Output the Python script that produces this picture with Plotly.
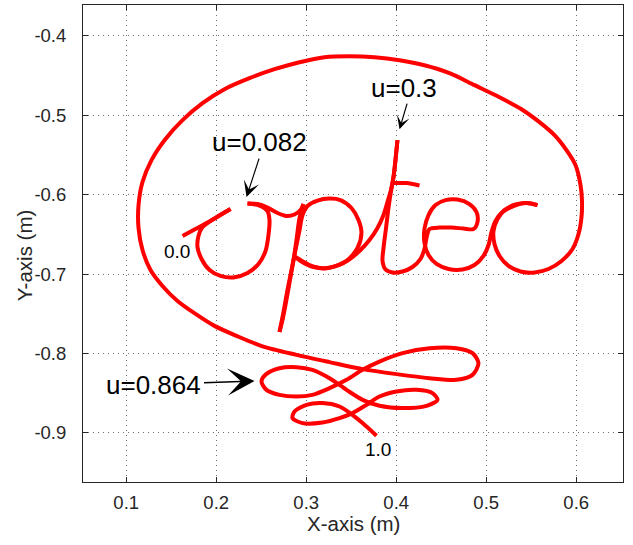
import plotly.graph_objects as go

# ---- trajectory strokes (X, Y in metres) ----
lead_x = [0.1626, 0.1759, 0.1892, 0.2026, 0.2159]
lead_y = [-0.6521, -0.6439, -0.6357, -0.6269, -0.6181]

o_x = [0.2159, 0.1992, 0.1848, 0.1803, 0.1792, 0.1837, 0.1926, 0.2048, 0.2192, 0.2348,
       0.2470, 0.2548, 0.2581, 0.2592, 0.2570, 0.2481, 0.2348]
o_y = [-0.6181, -0.6294, -0.6408, -0.6521, -0.6659, -0.6810, -0.6949, -0.7024, -0.7043, -0.6986,
       -0.6873, -0.6710, -0.6508, -0.6319, -0.6206, -0.6137, -0.6112]

ptop_x = [0.2348, 0.2459, 0.2570, 0.2681, 0.2781, 0.2870, 0.2937, 0.2970]
ptop_y = [-0.6112, -0.6118, -0.6162, -0.6231, -0.6269, -0.6250, -0.6194, -0.6118]

pstem_x = [0.2970, 0.2926, 0.2892, 0.2859, 0.2814, 0.2770, 0.2737, 0.2703]
pstem_y = [-0.6118, -0.6294, -0.6571, -0.6823, -0.7112, -0.7389, -0.7578, -0.7729]

pbowl_x = [0.2703, 0.2748, 0.2792, 0.2837, 0.2881, 0.2926, 0.2959, 0.3014, 0.3126, 0.3259,
           0.3381, 0.3503, 0.3581, 0.3614, 0.3570, 0.3448, 0.3270, 0.3081, 0.2937, 0.2881]
pbowl_y = [-0.7729, -0.7477, -0.7200, -0.6949, -0.6697, -0.6445, -0.6256, -0.6143, -0.6074, -0.6049,
           -0.6068, -0.6168, -0.6319, -0.6483, -0.6672, -0.6835, -0.6917, -0.6911, -0.6835, -0.6785]

pt_x = [0.2881, 0.3037, 0.3203, 0.3348, 0.3470, 0.3592, 0.3703, 0.3792, 0.3859, 0.3903,
        0.3942, 0.3970, 0.3992, 0.4014]
pt_y = [-0.6785, -0.6886, -0.6930, -0.6892, -0.6823, -0.6710, -0.6571, -0.6420, -0.6256, -0.6093,
        -0.5942, -0.5778, -0.5564, -0.5313]

tec_x = [0.4014, 0.3992, 0.3970, 0.3942, 0.3914, 0.3887, 0.3859, 0.3848, 0.3881, 0.3959,
         0.4070, 0.4181, 0.4270, 0.4314, 0.4337, 0.4370, 0.4481, 0.4614, 0.4748, 0.4859,
         0.4903, 0.4892, 0.4814, 0.4681, 0.4548, 0.4437, 0.4359, 0.4314, 0.4314, 0.4359,
         0.4448, 0.4581, 0.4737, 0.4870, 0.4970, 0.5026, 0.5059, 0.5103, 0.5181, 0.5303,
         0.5437, 0.5570]
tec_y = [-0.5313, -0.5564, -0.5778, -0.5955, -0.6168, -0.6420, -0.6672, -0.6835, -0.6942, -0.6980,
         -0.6968, -0.6911, -0.6810, -0.6684, -0.6546, -0.6433, -0.6414, -0.6414, -0.6426, -0.6433,
         -0.6345, -0.6219, -0.6118, -0.6061, -0.6068, -0.6131, -0.6256, -0.6433, -0.6609, -0.6760,
         -0.6873, -0.6936, -0.6942, -0.6886, -0.6772, -0.6634, -0.6470, -0.6332, -0.6219, -0.6143,
         -0.6105, -0.6131]

tbar_x = [0.3970, 0.4114, 0.4259]
tbar_y = [-0.5854, -0.5854, -0.5885]

loop_x = [0.5570, 0.5459, 0.5326, 0.5203, 0.5126, 0.5081, 0.5092, 0.5148, 0.5248, 0.5381,
          0.5537, 0.5692, 0.5837, 0.5959, 0.6026, 0.6059, 0.6064, 0.6048, 0.5992, 0.5892,
          0.5759, 0.5592, 0.5392, 0.5148, 0.4870, 0.4592, 0.4314, 0.4037, 0.3759, 0.3481,
          0.3203, 0.2926, 0.2648, 0.2370, 0.2092, 0.1848, 0.1626, 0.1426, 0.1281, 0.1181,
          0.1137, 0.1137, 0.1181, 0.1270, 0.1403, 0.1570, 0.1770, 0.1981, 0.2226, 0.2514,
          0.2892, 0.3259, 0.3626, 0.4003, 0.4370, 0.4670, 0.4848, 0.4914, 0.4848, 0.4670,
          0.4370, 0.4070, 0.3814, 0.3626, 0.3448, 0.3259, 0.3070, 0.2892, 0.2703, 0.2559,
          0.2503, 0.2559, 0.2703, 0.2892, 0.3070, 0.3259, 0.3448, 0.3626, 0.3814, 0.4070,
          0.4337, 0.4459, 0.4403, 0.4226, 0.4003, 0.3814, 0.3670, 0.3514, 0.3370, 0.3181,
          0.2959, 0.2848, 0.2870, 0.3003, 0.3181, 0.3370, 0.3514, 0.3626, 0.3781]
loop_y = [-0.6131, -0.6105, -0.6124, -0.6194, -0.6307, -0.6458, -0.6621, -0.6772, -0.6898, -0.6968,
          -0.6980, -0.6936, -0.6835, -0.6684, -0.6496, -0.6282, -0.6068, -0.5879, -0.5627, -0.5439,
          -0.5250, -0.5086, -0.4923, -0.4772, -0.4620, -0.4469, -0.4369, -0.4306, -0.4268, -0.4256,
          -0.4268, -0.4331, -0.4419, -0.4532, -0.4671, -0.4847, -0.5061, -0.5313, -0.5564, -0.5841,
          -0.6131, -0.6420, -0.6697, -0.6949, -0.7150, -0.7339, -0.7502, -0.7653, -0.7779, -0.7911,
          -0.8018, -0.8110, -0.8198, -0.8261, -0.8312, -0.8333, -0.8270, -0.8123, -0.7997, -0.7934,
          -0.7934, -0.7997, -0.8103, -0.8207, -0.8333, -0.8438, -0.8522, -0.8543, -0.8522, -0.8459,
          -0.8354, -0.8258, -0.8186, -0.8173, -0.8207, -0.8312, -0.8459, -0.8585, -0.8660, -0.8689,
          -0.8660, -0.8585, -0.8500, -0.8459, -0.8480, -0.8543, -0.8648, -0.8752, -0.8815, -0.8870,
          -0.8878, -0.8815, -0.8732, -0.8648, -0.8626, -0.8669, -0.8774, -0.8878, -0.9038]

strokes = [(lead_x, lead_y), (o_x, o_y), (ptop_x, ptop_y), (pstem_x, pstem_y),
           (pbowl_x, pbowl_y), (pt_x, pt_y), (tec_x, tec_y), (tbar_x, tbar_y),
           (loop_x, loop_y)]

# ---- axis ticks ----
x_ticks = [0.1, 0.2, 0.3, 0.4, 0.5, 0.6]
x_tick_text = ["0.1", "0.2", "0.3", "0.4", "0.5", "0.6"]
y_ticks = [-0.4, -0.5, -0.6, -0.7, -0.8, -0.9]
y_tick_text = ["-0.4", "-0.5", "-0.6", "-0.7", "-0.8", "-0.9"]

# ---- labels ----
end_labels = ["0.0", "1.0"]
end_label_x = [0.1564, 0.3796]
end_label_y = [-0.6716, -0.9214]

u_labels = ["u=0.082", "u=0.3", "u=0.864"]
u_label_x = [0.2481, 0.4086, 0.1304]
u_label_y = [-0.5338, -0.4654, -0.8393]
u_tip_x = [0.2337, 0.4037, 0.2426]
u_tip_y = [-0.6030, -0.5174, -0.8346]

fx, fy = [], []
for i, (sx, sy) in enumerate(strokes):
    if i:
        fx.append(None)
        fy.append(None)
    fx.extend(sx)
    fy.extend(sy)

fig = go.Figure()
fig.add_trace(go.Scatter(x=fx, y=fy, mode="lines",
                         line=dict(color="#ff0000", width=4, shape="spline", smoothing=0.8),
                         connectgaps=False, hoverinfo="skip", showlegend=False))

font_fam = "Liberation Sans, Arial, sans-serif"
ann = []
for t, x, y in zip(end_labels, end_label_x, end_label_y):
    ann.append(dict(x=x, y=y, xref="x", yref="y", text=t, showarrow=False,
                    font=dict(size=19, color="#000000", family=font_fam)))
for t, x, y in zip(u_labels, u_label_x, u_label_y):
    ann.append(dict(x=x, y=y, xref="x", yref="y", text=t, showarrow=False,
                    font=dict(size=26, color="#000000", family=font_fam)))
# arrows (tail offsets in px)
arrow_off = [(13, -40, 1.2, 2.2), (8, -27, 1.2, 1.8), (-52, 2, 1.5, 3.0)]
for (ax, ay, w, s), x, y in zip(arrow_off, u_tip_x, u_tip_y):
    ann.append(dict(x=x, y=y, xref="x", yref="y", ax=ax, ay=ay, text="",
                    showarrow=True, arrowhead=3, arrowwidth=w, arrowsize=s,
                    arrowcolor="#000000", standoff=0, startstandoff=0))
# axis titles
ann.append(dict(x=0.5, y=-0.088, xref="paper", yref="paper", text="X-axis (m)",
                showarrow=False, xanchor="center", yanchor="middle",
                font=dict(size=20.5, color="#262626", family=font_fam)))
ann.append(dict(x=-0.107, y=0.476, xref="paper", yref="paper", text="Y-axis (m)",
                showarrow=False, textangle=-90, xanchor="center", yanchor="middle",
                font=dict(size=20.5, color="#262626", family=font_fam)))

axis_common = dict(showgrid=True, gridcolor="#6e6e6e", gridwidth=1, griddash="1px,4px",
                   zeroline=False, showline=True, linecolor="#262626", linewidth=1,
                   mirror="ticks", ticks="inside", ticklen=5, tickcolor="#262626",
                   tickfont=dict(size=18.5, color="#262626", family=font_fam))

fig.update_layout(
    width=633, height=545,
    margin=dict(l=83, r=10, t=5, b=63),
    paper_bgcolor="white", plot_bgcolor="white",
    xaxis=dict(range=[0.052, 0.652], tickvals=x_ticks, ticktext=x_tick_text,
               ticklabelstandoff=4, **axis_common),
    yaxis=dict(range=[-0.962, -0.361], tickvals=y_ticks, ticktext=y_tick_text,
               ticklabelstandoff=12, **axis_common),
    annotations=ann,
)

fig.write_html("out.html")
